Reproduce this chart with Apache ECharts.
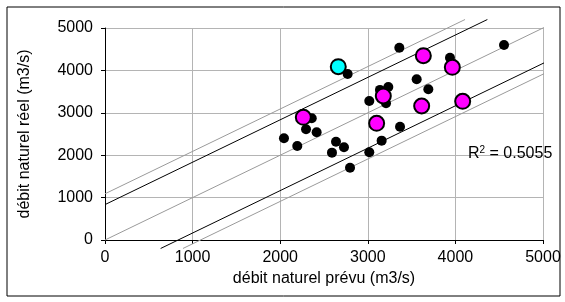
<!DOCTYPE html>
<html>
<head>
<meta charset="utf-8">
<script src="https://cdn.jsdelivr.net/npm/echarts@6/dist/echarts.min.js"></script>
<style>
  html, body { margin: 0; padding: 0; background: #fff; }
  #chart { width: 565px; height: 302px; }
</style>
</head>
<body>
<div id="chart"></div>
<script>
// points: [prévu, réel]
const blackPoints = [
  [2043, 2399], [2195, 2217], [2295, 2611], [2416, 2540], [2360, 2870],
  [2591, 2060], [2637, 2318], [2728, 2186], [2797, 1706], [2770, 3915],
  [3017, 3280], [3017, 2068], [3158, 2343], [3139, 3540], [3234, 3610],
  [3208, 3225], [3360, 4535], [3368, 2672], [3558, 3790], [3691, 3554],
  [3938, 4300], [4555, 4599]
];
const magentaPoints = [
  [2264, 2894], [3101, 2752], [3177, 3396], [3615, 3160],
  [3634, 4347], [3965, 4073], [4083, 3270]
];
const cyanPoints = [[2663, 4087]];

// reference lines
const lineOneToOne = [[0, 0], [5060, 5060]];
const lineUpperBlack = [[0, 835], [4365, 5200]];
const lineLowerBlack = [[635, -200], [5060, 4225]];
const lineUpperGray = [[0, 1090], [4110, 5200]];
const lineLowerGray = [[890, -200], [5060, 3970]];

const r2Text = '0.5055';

const chart = echarts.init(document.getElementById('chart'));

const refLine = (data, color) => ({
  type: 'line',
  data: data,
  symbol: 'none',
  clip: false,
  silent: true,
  lineStyle: { color: color, width: 1 },
  z: 1
});

const option = {
  animation: false,
  textStyle: { fontFamily: 'Liberation Sans, Arial, sans-serif' },
  grid: {
    left: 105, right: 22, top: 28, bottom: 62,
    containLabel: false,
    outerBoundsMode: 'none'
  },
  xAxis: {
    type: 'value',
    min: 0, max: 5000, interval: 1000,
    name: 'débit naturel prévu (m3/s)',
    nameLocation: 'middle',
    nameGap: 27,
    nameTextStyle: { fontSize: 16, color: '#000' },
    axisLine: { show: true, lineStyle: { color: '#000', width: 1 } },
    axisTick: { show: true, length: 4, lineStyle: { color: '#000' } },
    axisLabel: { fontSize: 16, color: '#000', margin: 10, formatter: (v) => String(v) },
    splitLine: { show: true, lineStyle: { color: '#b4b4b4', width: 1 } }
  },
  yAxis: {
    type: 'value',
    min: 0, max: 5000, interval: 1000,
    name: 'débit naturel réel (m3/s)',
    nameLocation: 'middle',
    nameGap: 72,
    nameTextStyle: { fontSize: 16, color: '#000' },
    axisLine: { show: true, lineStyle: { color: '#000', width: 1 } },
    axisTick: { show: true, length: 4, lineStyle: { color: '#000' } },
    axisLabel: { fontSize: 16, color: '#000', margin: 12, formatter: (v) => String(v) },
    splitLine: { show: true, lineStyle: { color: '#b4b4b4', width: 1 } }
  },
  series: [
    refLine(lineUpperGray, '#9a9a9a'),
    refLine(lineOneToOne, '#9a9a9a'),
    refLine(lineLowerGray, '#9a9a9a'),
    refLine(lineUpperBlack, '#000'),
    refLine(lineLowerBlack, '#000'),
    {
      type: 'scatter',
      data: blackPoints,
      symbolSize: 10,
      itemStyle: { color: '#000', opacity: 1 },
      z: 2
    },
    {
      type: 'scatter',
      data: magentaPoints,
      symbolSize: 15,
      itemStyle: { color: '#ff00ff', borderColor: '#000', borderWidth: 2, opacity: 1 },
      z: 3
    },
    {
      type: 'scatter',
      data: cyanPoints,
      symbolSize: 15,
      itemStyle: { color: '#00ffff', borderColor: '#000', borderWidth: 2, opacity: 1 },
      z: 3
    }
  ],
  graphic: [
    {
      type: 'rect',
      shape: { x: 7, y: 7, width: 553, height: 289 },
      style: { fill: 'none', stroke: '#000', lineWidth: 1 },
      silent: true
    },
    {
      type: 'text',
      left: 468, top: 145,
      style: {
        text: 'R{sup|2} = ' + r2Text,
        fontSize: 16,
        fill: '#000',
        fontFamily: 'Liberation Sans, Arial, sans-serif',
        rich: {
          sup: { fontSize: 10, verticalAlign: 'top', padding: [0, 0, 7, 0] }
        }
      },
      z: 10
    }
  ]
};

chart.setOption(option);
</script>
</body>
</html>
